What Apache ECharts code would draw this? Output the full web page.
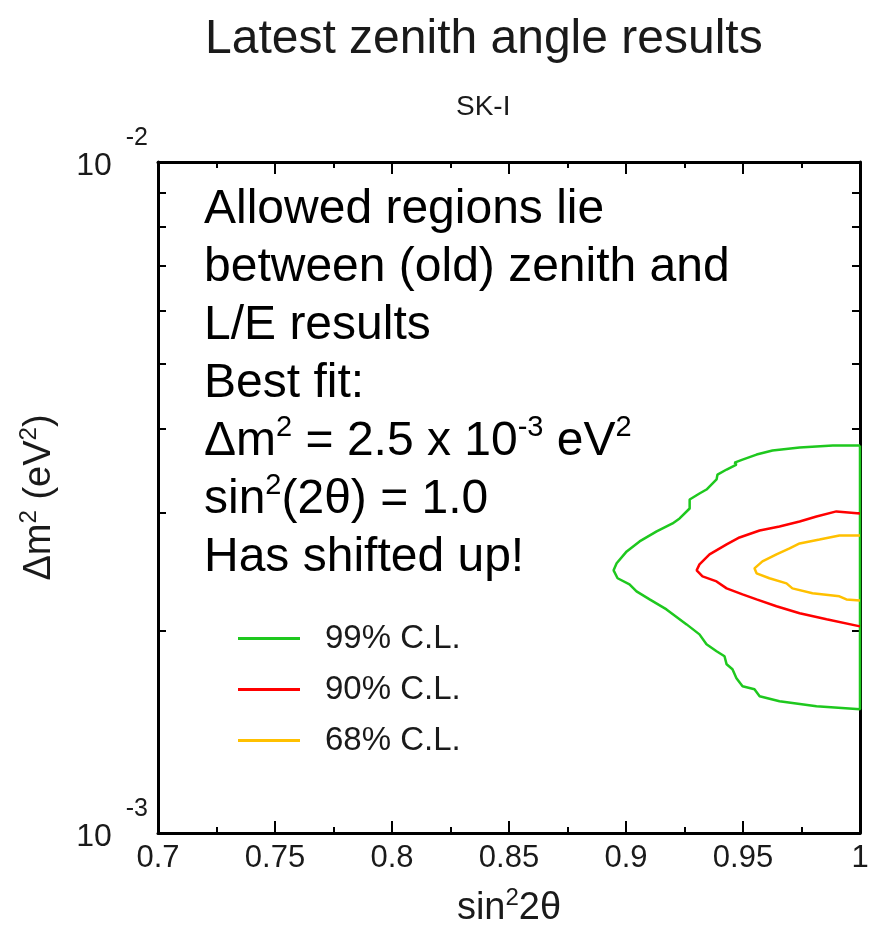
<!DOCTYPE html>
<html style="height: 100%">

<head>
    <meta charset="utf-8">
</head>

<body style="height: 100%;width: 100%;margin: 0;">
    <div id="container" style="height: 938px;width: 877px;"></div>
    <script type="text/javascript" src="https://cdn.jsdelivr.net/npm/echarts@6/dist/echarts.min.js"></script>
    <script type="text/javascript">
        // contours: [sin^2(2theta), dm^2 (eV^2)]
        var cl99 = [
            [1.0, 0.00378], [0.9884, 0.00378], [0.9742, 0.003753], [0.9626, 0.003715], [0.9558, 0.003664],
            [0.9498, 0.003602], [0.9464, 0.003565], [0.9472, 0.00354], [0.9430, 0.003481], [0.9391, 0.003421],
            [0.9387, 0.003364], [0.9344, 0.00325], [0.9314, 0.003206], [0.9272, 0.003141], [0.9272, 0.003045],
            [0.9229, 0.002943], [0.9199, 0.002893], [0.9131, 0.002815], [0.9058, 0.00272], [0.9003, 0.002628],
            [0.8960, 0.002523], [0.8947, 0.002463], [0.8964, 0.002397], [0.9015, 0.002348], [0.9045, 0.002291],
            [0.9101, 0.002229], [0.9173, 0.002154], [0.9259, 0.002046], [0.9314, 0.001977], [0.9344, 0.001911],
            [0.9387, 0.001866], [0.9421, 0.001834], [0.9430, 0.001784], [0.9455, 0.001754], [0.9472, 0.001701],
            [0.9498, 0.001655], [0.9549, 0.001638], [0.9571, 0.001599], [0.9656, 0.001572], [0.9814, 0.001545],
            [1.0, 0.001529], [1.0, 0.00378]
        ];
        var cl90 = [
            [1.0, 0.002994], [0.9899, 0.003015], [0.9814, 0.002963], [0.9742, 0.002913], [0.9656, 0.002863],
            [0.9571, 0.002824], [0.9485, 0.002757], [0.9430, 0.002692], [0.9357, 0.002602], [0.9314, 0.002514],
            [0.9302, 0.002463], [0.9327, 0.002412], [0.9387, 0.002371], [0.9430, 0.002315], [0.9498, 0.002268],
            [0.9558, 0.002229], [0.9643, 0.002177], [0.9742, 0.002126], [0.9857, 0.002082], [1.0, 0.002032]
        ];
        var cl68 = [
            [1.0, 0.002776], [0.9912, 0.002776], [0.9827, 0.002738], [0.9742, 0.002701], [0.9699, 0.002655],
            [0.9643, 0.002602], [0.9583, 0.00254], [0.9549, 0.00248], [0.9558, 0.002438], [0.9613, 0.002397],
            [0.9686, 0.002355], [0.9711, 0.002315], [0.9797, 0.002276], [0.9912, 0.002253], [0.9942, 0.002229],
            [1.0, 0.002221]
        ];
        var names = ['99% C.L.', '90% C.L.', '68% C.L.'];
        var colors = ['#1ec81e', '#ff0000', '#ffc000'];
        var yTicks = [0.001, 0.002, 0.003, 0.004, 0.005, 0.006, 0.007, 0.008, 0.009, 0.01];
        var yLabels = [0.001, 0.01];
        var noteLines = [
            '{n|Allowed regions lie}',
            '{n|between (old) zenith and}',
            '{n|L/E results}',
            '{n|Best fit:}',
            '{n|\u0394m}{s|2}{n| = 2.5 x 10}{s|-3}{n| eV}{s|2}',
            '{n|sin}{s|2}{n|(2\u03b8) = 1.0}',
            '{n|Has shifted up!}'
        ];

        var font = 'Liberation Sans, Arial, sans-serif';
        var ink = '#1a1a1a';
        var frame = { show: true, lineStyle: { color: '#000', width: 3 } };

        // superscript helper: sup sits at the top of a shorter box, so it is raised by "raise" px
        function supRich(size, supSize, lh, raise) {
            return {
                n: { fontSize: size, fontFamily: font, color: ink, lineHeight: lh, verticalAlign: 'middle' },
                s: { fontSize: supSize, fontFamily: font, color: ink, lineHeight: lh - 2 * raise, verticalAlign: 'top' }
            };
        }

        var xBase = {
            type: 'value', min: 0.7, max: 1, interval: 0.05,
            axisLine: frame,
            axisTick: { show: true, inside: true, length: 12, lineStyle: { color: '#000', width: 2 } },
            minorTick: { show: true, splitNumber: 2, length: 6, lineStyle: { color: '#000', width: 2 } },
            splitLine: { show: false }
        };
        var yBase = {
            type: 'log', logBase: 10, min: 0.001, max: 0.01,
            axisLine: frame,
            axisTick: { show: true, inside: true, length: 8, customValues: yTicks, lineStyle: { color: '#000', width: 2 } },
            splitLine: { show: false }
        };

        var yLabRich = supRich(32, 25, 80, 27);
        yLabRich.s.padding = [0, 0, 0, 14];

        var dom = document.getElementById('container');
        var myChart = echarts.init(dom);
        var option = {
            animation: false,
            backgroundColor: '#fff',
            title: [{
                text: 'Latest zenith angle results', left: 200, top: 11,
                textStyle: { fontSize: 48, fontWeight: 'normal', color: ink, fontFamily: font }
            }, {
                text: 'SK-I', left: 451, top: 88,
                textStyle: { fontSize: 28, fontWeight: 'normal', color: ink, fontFamily: font }
            }],
            legend: {
                data: names, orient: 'vertical', left: 233, top: 617,
                icon: 'rect', itemWidth: 62, itemHeight: 3, itemGap: 18,
                textStyle: { fontSize: 33, color: ink, fontFamily: font, padding: [0, 0, 0, 20] }
            },
            grid: { left: 158, right: 17, top: 162, bottom: 105 },
            xAxis: [
                Object.assign({}, xBase, {
                    position: 'bottom',
                    name: '{n|sin}{s|2}{n|2\u03b8}', nameLocation: 'middle', nameGap: 53,
                    nameTextStyle: { rich: supRich(38, 24, 46, 12) },
                    axisLabel: {
                        margin: 10, fontSize: 31, color: ink, fontFamily: font,
                        formatter: function (v) { return String(Math.round(v * 100) / 100); }
                    }
                }),
                Object.assign({}, xBase, { position: 'top', axisLabel: { show: false } })
            ],
            yAxis: [
                Object.assign({}, yBase, {
                    position: 'left',
                    name: '{n|\u0394m}{s|2}{n| (eV}{s|2}{n|)}', nameLocation: 'middle', nameGap: 95,
                    nameTextStyle: { rich: supRich(38, 24, 46, 12) },
                    axisLabel: {
                        margin: 10, customValues: yLabels, padding: [8, 0, 0, 0],
                        formatter: function (v) {
                            return '{n|10}{s|' + Math.round(Math.log10(v)) + '}';
                        },
                        rich: yLabRich
                    }
                }),
                Object.assign({}, yBase, { position: 'right', axisLabel: { show: false } })
            ],
            graphic: [{
                type: 'text', left: 204, top: 186,
                style: { text: noteLines.join('\n'), rich: supRich(48, 29, 58, 10) }
            }],
            series: [cl99, cl90, cl68].map(function (d, i) {
                return {
                    name: names[i], type: 'line', data: d,
                    showSymbol: false, clip: false,
                    lineStyle: { color: colors[i], width: 2.5 },
                    itemStyle: { color: colors[i] }
                };
            })
        };
        myChart.setOption(option);
    </script>
</body>

</html>
